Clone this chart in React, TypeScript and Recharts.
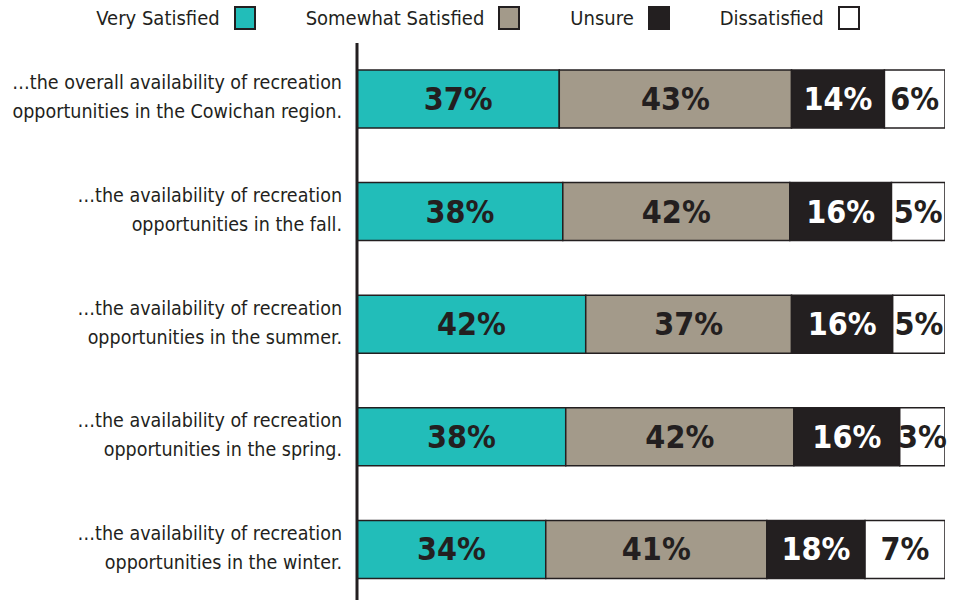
import { BarChart, Bar, XAxis, YAxis, Legend, LabelList } from 'recharts';

const FONT = "'DejaVu Sans Condensed', 'DejaVu Sans', sans-serif";
const INK = '#231f20';

const categories = [
  '…the overall availability of recreation|opportunities in the Cowichan region.',
  '…the availability of recreation|opportunities in the fall.',
  '…the availability of recreation|opportunities in the summer.',
  '…the availability of recreation|opportunities in the spring.',
  '…the availability of recreation|opportunities in the winter.',
];

const seriesNames = ['Very Satisfied', 'Somewhat Satisfied', 'Unsure', 'Dissatisfied'];
const seriesColors = ['#22bdb9', '#a39a8a', '#231f20', '#ffffff'];
const labelColors = [INK, INK, '#ffffff', INK];

// printed percentages
const verySatisfiedPct = [37, 38, 42, 38, 34];
const somewhatSatisfiedPct = [43, 42, 37, 42, 41];
const unsurePct = [14, 16, 16, 16, 18];
const dissatisfiedPct = [6, 5, 5, 3, 7];

// drawn bar lengths (share of the full bar, as shown)
const verySatisfiedLen = [34.4, 35.0, 38.9, 35.5, 32.1];
const somewhatSatisfiedLen = [39.5, 38.6, 35.0, 38.8, 37.6];
const unsureLen = [15.8, 17.3, 17.2, 18.0, 16.7];
const dissatisfiedLen = [10.3, 9.1, 8.9, 7.7, 13.6];

const keys = ['vs', 'ss', 'un', 'di'];

const data = categories.map((category, i) => ({
  category,
  vs: verySatisfiedLen[i],
  ss: somewhatSatisfiedLen[i],
  un: unsureLen[i],
  di: dissatisfiedLen[i],
  vsLabel: `${verySatisfiedPct[i]}%`,
  ssLabel: `${somewhatSatisfiedPct[i]}%`,
  unLabel: `${unsurePct[i]}%`,
  diLabel: `${dissatisfiedPct[i]}%`,
}));

const textStyle = { fontFamily: FONT, fontStretch: 'condensed' as const };

function CategoryTick({ x, y, payload }: any) {
  const lines = String(payload.value).split('|');
  return (
    <text x={x} y={y} textAnchor="end" fontSize={19.5} fill={INK} style={textStyle}>
      {lines.map((line, i) => (
        <tspan key={i} x={x} dy={i === 0 ? -10 : 29}>
          {line}
        </tspan>
      ))}
    </text>
  );
}

function BarLabel(color: string) {
  return ({ x, y, width, height, value }: any) => (
    <text
      x={x + width / 2}
      y={y + height / 2}
      dy={11}
      textAnchor="middle"
      fontSize={32}
      fontWeight="bold"
      fill={color}
      style={textStyle}
    >
      {value}
    </text>
  );
}

function LegendContent() {
  return (
    <div style={{ display: 'flex', justifyContent: 'center', gap: 50, fontSize: 20, color: INK, ...textStyle }}>
      {seriesNames.map((name, i) => (
        <div key={name} style={{ display: 'flex', alignItems: 'center' }}>
          <span>{name}</span>
          <span
            style={{
              display: 'inline-block',
              width: 18,
              height: 20,
              marginLeft: 14,
              background: seriesColors[i],
              border: `2px solid ${INK}`,
            }}
          />
        </div>
      ))}
    </div>
  );
}

export default function App() {
  return (
    <div style={{ position: 'absolute', left: 0, top: 0, background: '#fff' }}>
      <BarChart
        width={956}
        height={606}
        data={data}
        layout="vertical"
        margin={{ top: 43, right: 11, bottom: 0, left: 0 }}
        barCategoryGap={0}
      >
        <XAxis type="number" hide domain={[0, 100]} allowDataOverflow />
        <YAxis
          type="category"
          dataKey="category"
          width={357}
          tickLine={false}
          tickSize={0}
          tickMargin={15}
          axisLine={{ stroke: INK, strokeWidth: 3 }}
          tick={<CategoryTick />}
        />
        <Legend
          layout="vertical"
          align="center"
          verticalAlign="middle"
          wrapperStyle={{ top: 6, left: 0, width: 956 }}
          content={<LegendContent />}
        />
        {keys.map((k, i) => (
          <Bar
            key={k}
            dataKey={k}
            name={seriesNames[i]}
            stackId="a"
            fill={seriesColors[i]}
            stroke={INK}
            strokeWidth={1.5}
            barSize={58}
            isAnimationActive={false}
          >
            <LabelList dataKey={`${k}Label`} content={BarLabel(labelColors[i])} />
          </Bar>
        ))}
      </BarChart>
    </div>
  );
}
